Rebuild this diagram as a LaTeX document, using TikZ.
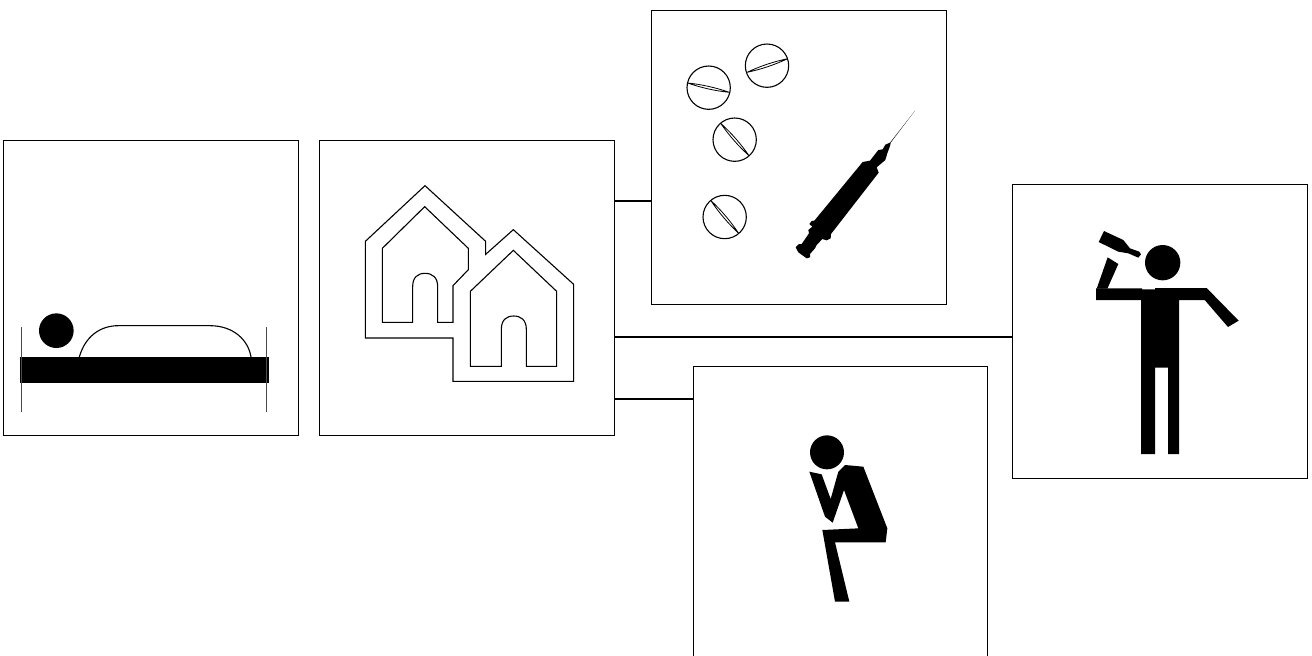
\documentclass[tikz,border=0pt]{standalone}
\begin{document}
\begin{tikzpicture}[x=0.5pt,y=-0.5pt,
  panel/.style={draw=black,line width=0.55pt,fill=white,minimum size=147.2pt,inner sep=0pt,outer sep=0pt},
  wire/.style={draw=black,line width=0.55pt},
  thin outline/.style={draw=black,line width=0.55pt,line join=miter},
  pill slit/.style={draw=black,line width=0.4pt,line join=bevel},
  bed post/.style={draw=black!70,line width=0.5pt},
  solid shape/.style={fill=black,draw=none}]
\useasboundingbox (0,0) rectangle (1312,655);
\node[panel] (bed) at (151,288) {};
\node[panel] (house) at (467,288) {};
\node[panel] (pills) at (799,157.5) {};
\node[panel] (drink) at (1160,331.5) {};
\node[panel] (think) at (840.5,513.5) {};
\coordinate (ya) at (630,201);
\coordinate (yb) at (630,337);
\coordinate (yc) at (630,399);
\draw[wire] (house.east |- ya) -- (pills.west |- ya);
\draw[wire] (house.east |- yb) -- (drink.west |- yb);
\draw[wire] (house.east |- yc) -- (think.west |- yc);
% bed
\begin{scope}[shift={(10,300)},scale=1/3]
\fill[solid shape] (139,92) circle[radius=52];
\fill[solid shape] (31,171) rectangle (777,248);
\draw[bed post] (33,82) -- (33,337);
\draw[bed post] (769,82) -- (769,337);
\draw[thin outline] (208,171) .. controls (225,110) and (270,77) .. (325,77) -- (600,77) .. controls (670,77) and (715,120) .. (723,171);
\end{scope}
% houses
\begin{scope}[shift={(350,170)},scale=1/3]
\draw[thin outline] (46,214) -- (225,47) -- (407,214) -- (407,253) -- (490,179) -- (671,343) -- (671,634) -- (309,634) -- (309,504) -- (46,504) -- cycle;
\draw[thin outline] (97,235) -- (224,110) -- (355,235) -- (355,299) -- (309,347) -- (309,457) -- (263,457) -- (263,350) .. controls (263,322) and (247,310) .. (225,310) .. controls (203,310) and (188,322) .. (188,350) -- (188,457) -- (97,457) -- cycle;
\draw[thin outline] (361,364) -- (490,241) -- (620,364) -- (620,589) -- (529,589) -- (529,478) .. controls (529,450) and (513,438) .. (491,438) .. controls (469,438) and (454,450) .. (454,478) -- (454,589) -- (361,589) -- cycle;
\end{scope}
% pills and syringe
\begin{scope}[shift={(660,20)},scale=1/3]
\draw[thin outline] (146,203) circle[radius=65];
\draw[thin outline] (321,137) circle[radius=65];
\draw[thin outline] (224,359) circle[radius=65];
\draw[thin outline] (194,591) circle[radius=65];
\draw[pill slit] (83,189) .. controls (125.8,193.4) and (167.4,202.8) .. (208,217) .. controls (165.2,212.6) and (123.6,203.2) .. (83,189) -- cycle;
\draw[pill slit] (261,157) .. controls (300,138.5) and (340.7,125) .. (383,116) .. controls (344,134.4) and (303.3,148) .. (261,157) -- cycle;
\draw[pill slit] (182,310) .. controls (214,339) and (242.4,371.4) .. (267,407) .. controls (235,378) and (206.6,345.6) .. (182,310) -- cycle;
\draw[pill slit] (152,541) .. controls (183.8,570.8) and (211.8,603.8) .. (236,640) .. controls (204.2,610.2) and (176.2,577.2) .. (152,541) -- cycle;
\fill[solid shape] (765,272) -- (692,368) -- (690,378) -- (682,400) -- (676,420) -- (650,442) -- (656,458) -- (513,642) -- (512,655) -- (500,661) -- (487,657) -- (470,675) -- (465,685) -- (450,702) -- (450,712) -- (440,715) -- (415,697) -- (407,682) -- (415,673) -- (425,672) -- (447,640) -- (445,630) -- (457,620) -- (448,612) -- (455,603) -- (463,602) -- (608,426) -- (630,422) -- (655,390) -- (668,388) -- (676,374) -- (690,368) -- cycle;
\end{scope}
% drinker
\begin{scope}[shift={(1080,220)},scale=1/3]
\fill[solid shape] (248,128) circle[radius=53];
\fill[solid shape] (48,205) -- (186,205) -- (186,208) -- (225,208) -- (225,204) -- (380,204) -- (476,302) -- (444,321) -- (374,240) -- (297,240) -- (297,702) -- (264,702) -- (264,443) -- (225,443) -- (225,702) -- (183,702) -- (183,240) -- (48,240) -- cycle;
\fill[solid shape] (83,112) -- (115,132) -- (82,206) -- (50,206) -- cycle;
\fill[solid shape] (72,33) -- (130,60) -- (150,85) -- (178,95) -- (183,103) -- (175,113) -- (145,100) -- (115,95) -- (56,66) -- cycle;
\end{scope}
% thinker
\begin{scope}[shift={(790,425)},scale=1/3]
\fill[solid shape] (111,82) circle[radius=51];
\fill[solid shape] (145,140) -- (165,120) -- (220,125) -- (292,310) -- (287,352) -- (135,352) -- (178,530) -- (135,530) -- (97,315) -- (205,310) -- (162,195) -- (128,293) -- (105,275) -- (58,140) -- (95,148) -- (122,222) -- cycle;
\end{scope}
\end{tikzpicture}
\end{document}
